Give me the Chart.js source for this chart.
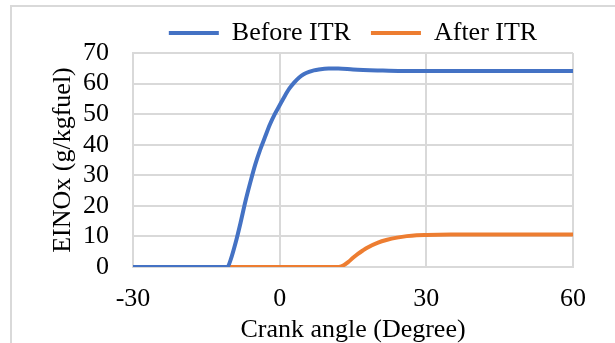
<!DOCTYPE html>
<html>
<head>
<meta charset="utf-8">
<script src="https://cdn.jsdelivr.net/npm/chart.js@4"></script>
<style>
  body { margin: 0; background: #fff; overflow: hidden; }
  #wrap { position: relative; width: 615px; height: 343px; }
  #frame { position: absolute; left: 10px; top: 5px; width: 700px; height: 400px; border: 2px solid #d9d9d9; box-sizing: border-box; }
  canvas { position: absolute; left: 0; top: 0; }
</style>
</head>
<body>
<div id="wrap">
  <div id="frame"></div>
  <canvas id="nox-chart" width="615" height="343"></canvas>
</div>
<script>
// Dane
const beforeAngles = [-30, -10.7, -10, -9, -8, -7, -6, -5, -4, -3, -2, -1, 0, 1, 2, 3, 4, 5, 6, 7, 8, 10, 12, 15, 20, 25, 30, 60];
const beforeValues = [0, 0, 2.5, 8, 14.5, 21.5, 27.7, 33.5, 38.3, 42.5, 46.6, 50, 52.9, 55.8, 58.4, 60.4, 62, 63.1, 63.8, 64.3, 64.6, 64.9, 64.9, 64.6, 64.3, 64.1, 64.1, 64.1];
const afterAngles = [-30, 12, 13, 14, 15, 16, 17, 18, 20, 22, 24, 26, 28, 30, 35, 60];
const afterValues = [0, 0, 0.5, 1.6, 3, 4.3, 5.4, 6.4, 7.9, 8.9, 9.6, 10.1, 10.4, 10.5, 10.6, 10.6];
const xTicks = [-30, 0, 30, 60];
const yTicks = [0, 10, 20, 30, 40, 50, 60, 70];

const toPoints = (xs, ys) => xs.map((x, i) => ({ x: x, y: ys[i] }));

const serif = 'Liberation Serif, Times New Roman, serif';
const gridColor = '#d9d9d9';

// Stała wysokość legendy
const legendFit = {
    id: 'legendFit',
    afterInit(chart) {
        const fit = chart.legend.fit;
        chart.legend.fit = function () {
            fit.bind(chart.legend)();
            this.height = 53;
        };
    }
};

new Chart(document.getElementById('nox-chart'), {
    type: 'line',
    data: {
        datasets: [{
            label: 'Before ITR',
            data: toPoints(beforeAngles, beforeValues),
            borderColor: '#4472C4',
            backgroundColor: '#4472C4',
            borderWidth: 4,
            pointRadius: 0,
            cubicInterpolationMode: 'monotone',
            fill: false
        }, {
            label: 'After ITR',
            data: toPoints(afterAngles, afterValues),
            borderColor: '#ED7D31',
            backgroundColor: '#ED7D31',
            borderWidth: 4,
            pointRadius: 0,
            cubicInterpolationMode: 'monotone',
            fill: false
        }]
    },
    options: {
        responsive: false,
        animation: false,
        devicePixelRatio: 1,
        layout: { padding: { left: 0, right: 42, top: 0, bottom: 0 } },
        plugins: {
            tooltip: { enabled: false },
            legend: {
                position: 'top',
                fullSize: false,
                labels: {
                    color: '#000',
                    font: { family: serif, size: 26 },
                    usePointStyle: true,
                    pointStyle: 'line',
                    pointStyleWidth: 50,
                    padding: 20
                }
            }
        },
        scales: {
            x: {
                type: 'linear',
                min: -30,
                max: 60,
                afterBuildTicks: s => { s.ticks = xTicks.map(v => ({ value: v })); },
                afterFit: s => { s.height = 76; },
                grid: { color: gridColor, lineWidth: 2, drawTicks: false },
                border: { color: gridColor, width: 2 },
                ticks: { color: '#000', font: { family: serif, size: 26 }, padding: 17, maxRotation: 0, autoSkip: false },
                title: {
                    display: true,
                    text: 'Crank angle (Degree)',
                    color: '#000',
                    font: { family: serif, size: 26, lineHeight: 1 },
                    padding: { top: 0, bottom: 0 }
                }
            },
            y: {
                min: 0,
                max: 70,
                afterBuildTicks: s => { s.ticks = yTicks.map(v => ({ value: v })); },
                afterFit: s => { s.width = 133; },
                grid: { color: gridColor, lineWidth: 2, drawTicks: false },
                border: { color: gridColor, width: 2 },
                ticks: { color: '#000', font: { family: serif, size: 26 }, padding: 24, autoSkip: false },
                title: {
                    display: true,
                    text: 'EINOx (g/kgfuel)',
                    color: '#000',
                    font: { family: serif, size: 26, lineHeight: 1 },
                    padding: { top: 50, bottom: 0 }
                }
            }
        }
    },
    plugins: [legendFit]
});
</script>
</body>
</html>
